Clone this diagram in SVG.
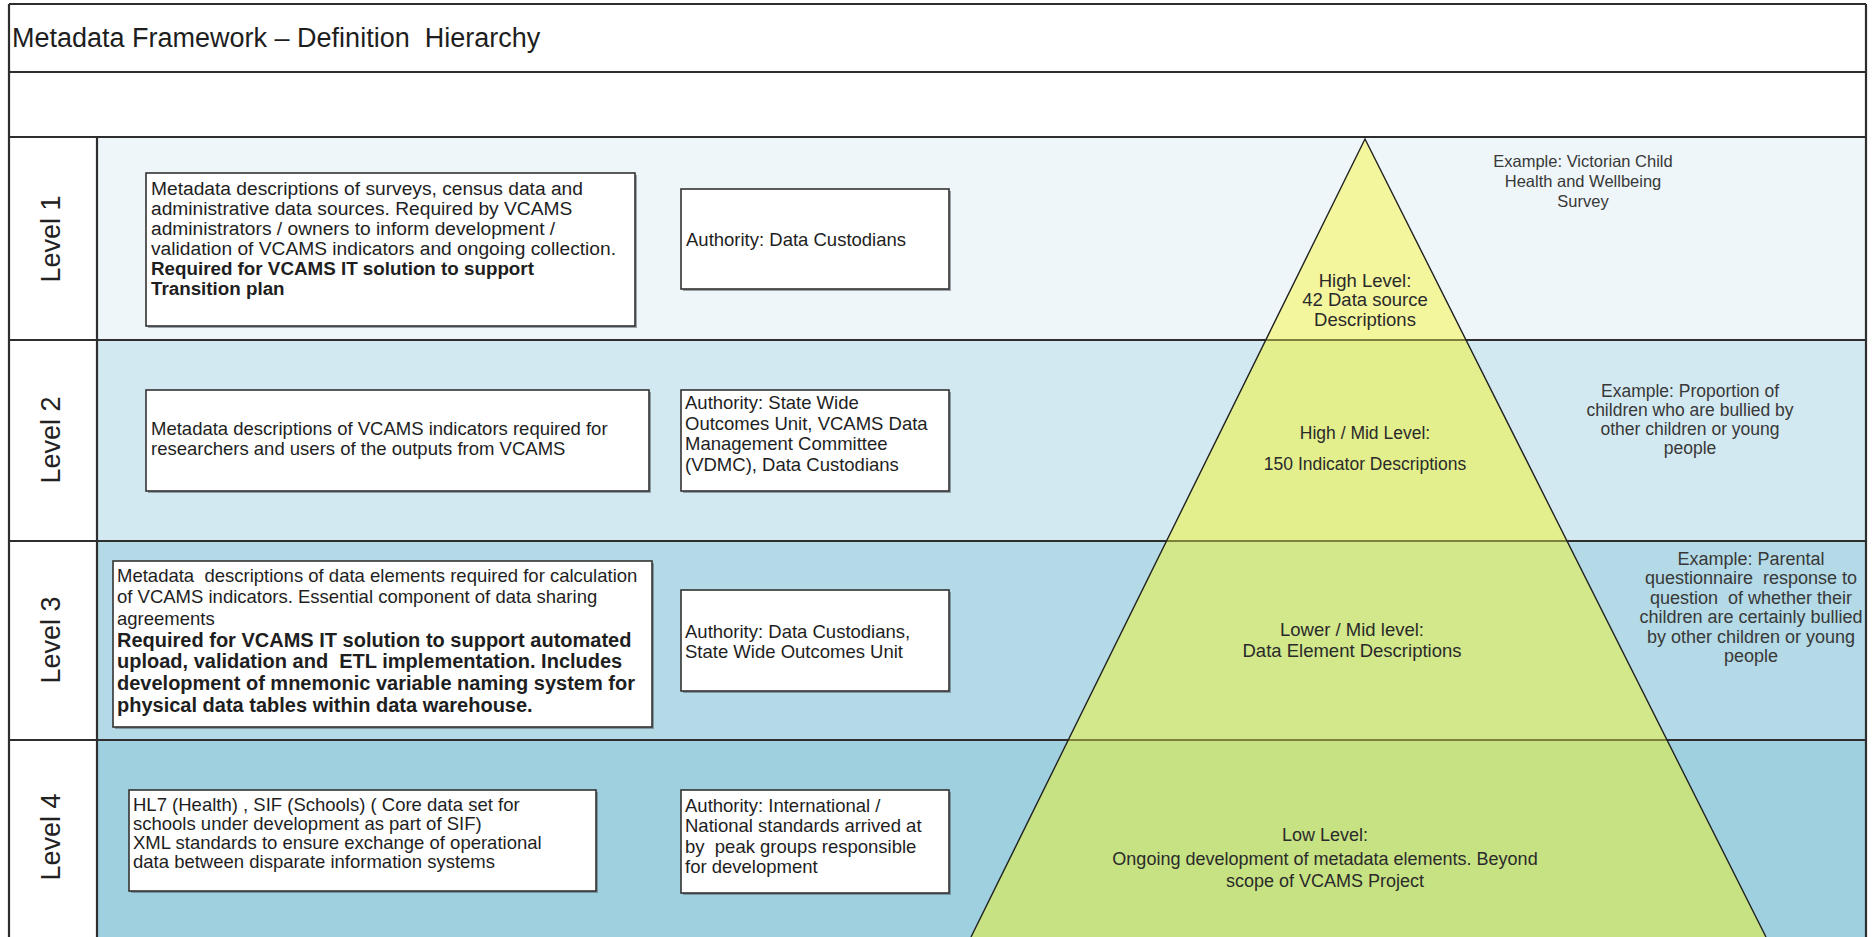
<svg xmlns="http://www.w3.org/2000/svg" width="1872" height="937" viewBox="0 0 1872 937">
<defs>
<style>
.t{font-family:"Liberation Sans",Arial,sans-serif;font-size:18.5px;fill:#1e1e1e}
.b{font-weight:bold}
.ex{font-family:"Liberation Sans",Arial,sans-serif;font-size:18px;fill:#383838;text-anchor:middle}
.pl{font-family:"Liberation Sans",Arial,sans-serif;font-size:18.5px;fill:#2a2a2a;text-anchor:middle}
.lv{font-family:"Liberation Sans",Arial,sans-serif;font-size:27px;fill:#222;text-anchor:middle}
.box{fill:#fff;stroke:#333;stroke-width:1.6}
.sh{fill:#55606a;opacity:.55}
.rl{stroke:#2e2e2e;stroke-width:2.2}
.ol{stroke:#7d7f3c;stroke-width:2.2}
</style>
</defs>
<rect x="0" y="0" width="1872" height="937" fill="#fff"/>
<g id="background">
<rect x="97" y="137" width="1769" height="203" fill="#eef6f9"/>
<rect x="97" y="340" width="1769" height="201" fill="#d3e9f1"/>
<rect x="97" y="541" width="1769" height="199" fill="#b3dae6"/>
<rect x="97" y="740" width="1769" height="197" fill="#9ed0df"/>
</g>
<g id="grid">
<line class="rl" x1="9" y1="4" x2="1866" y2="4"/>
<line class="rl" x1="9" y1="72" x2="1866" y2="72"/>
<line class="rl" x1="9" y1="137" x2="1866" y2="137"/>
<line class="rl" x1="9" y1="340" x2="1866" y2="340"/>
<line class="rl" x1="9" y1="541" x2="1866" y2="541"/>
<line class="rl" x1="9" y1="740" x2="1866" y2="740"/>
<line class="rl" x1="9" y1="4" x2="9" y2="937"/>
<line class="rl" x1="1866" y1="4" x2="1866" y2="937"/>
<line class="rl" x1="97" y1="137" x2="97" y2="937"/>
</g>
<g id="title">
<text x="12" y="47" xml:space="preserve" font-family="Liberation Sans, Arial, sans-serif" font-size="27" fill="#1e1e1e">Metadata Framework – Definition  Hierarchy</text>
</g>
<g id="pyramid">
<polygon points="1365,139 1466,340 1265.8,340" fill="#f4f69e"/>
<polygon points="1265.8,340 1466,340 1567,541 1166.5,541" fill="#e3ef8d"/>
<polygon points="1166.5,541 1567,541 1667,740 1068.3,740" fill="#d2e88a"/>
<polygon points="1068.3,740 1667,740 1766,937 971,937" fill="#c7e283"/>
<line class="ol" x1="1265.8" y1="340" x2="1466" y2="340"/>
<line class="ol" x1="1166.5" y1="541" x2="1567" y2="541"/>
<line class="ol" x1="1068.3" y1="740" x2="1667" y2="740"/>
<polyline points="971,937 1365,139 1766,937" fill="none" stroke="#222" stroke-width="1.4"/>
</g>
<g id="level1">
<g id="level1-label"><text class="lv" transform="translate(60,239) rotate(-90)">Level 1</text></g>
<g id="level1-desc">
<rect class="sh" x="148" y="175" width="489" height="153"/>
<rect class="box" x="146" y="173" width="489" height="153"/>
<text class="t" style="font-size:19.2px"><tspan x="151" y="195">Metadata descriptions of surveys, census data and</tspan><tspan x="151" y="215">administrative data sources. Required by VCAMS</tspan><tspan x="151" y="235">administrators / owners to inform development /</tspan><tspan x="151" y="255">validation of VCAMS indicators and ongoing collection.</tspan><tspan class="b" style="font-size:18.8px" x="151" y="275">Required for VCAMS IT solution to support</tspan><tspan class="b" style="font-size:18.8px" x="151" y="295">Transition plan</tspan></text>
</g>
<g id="level1-auth">
<rect class="sh" x="683" y="191" width="268" height="100"/>
<rect class="box" x="681" y="189" width="268" height="100"/>
<text class="t" x="686" y="246">Authority: Data Custodians</text>
</g>
<g id="level1-pyr"><text class="pl"><tspan x="1365" y="286.5">High Level:</tspan><tspan x="1365" y="306">42 Data source</tspan><tspan x="1365" y="325.5">Descriptions</tspan></text></g>
<g id="level1-example"><text class="ex" style="font-size:16.5px"><tspan x="1583" y="167">Example: Victorian Child</tspan><tspan x="1583" y="187">Health and Wellbeing</tspan><tspan x="1583" y="207">Survey</tspan></text></g>
</g>
<g id="level2">
<g id="level2-label"><text class="lv" transform="translate(60,440) rotate(-90)">Level 2</text></g>
<g id="level2-desc">
<rect class="sh" x="148" y="392" width="503" height="101"/>
<rect class="box" x="146" y="390" width="503" height="101"/>
<text class="t"><tspan x="151" y="435">Metadata descriptions of VCAMS indicators required for</tspan><tspan x="151" y="454.5">researchers and users of the outputs from VCAMS</tspan></text>
</g>
<g id="level2-auth">
<rect class="sh" x="683" y="392" width="268" height="101"/>
<rect class="box" x="681" y="390" width="268" height="101"/>
<text class="t"><tspan x="685" y="409">Authority: State Wide</tspan><tspan x="685" y="429.5">Outcomes Unit, VCAMS Data</tspan><tspan x="685" y="450">Management Committee</tspan><tspan x="685" y="470.5">(VDMC), Data Custodians</tspan></text>
</g>
<g id="level2-pyr"><text class="pl" style="font-size:17.5px"><tspan x="1365" y="438.5">High / Mid Level:</tspan><tspan x="1365" y="469.5">150 Indicator Descriptions</tspan></text></g>
<g id="level2-example"><text class="ex" style="font-size:17.5px"><tspan x="1690" y="397">Example: Proportion of</tspan><tspan x="1690" y="416">children who are bullied by</tspan><tspan x="1690" y="435">other children or young</tspan><tspan x="1690" y="454">people</tspan></text></g>
</g>
<g id="level3">
<g id="level3-label"><text class="lv" transform="translate(60,640) rotate(-90)">Level 3</text></g>
<g id="level3-desc">
<rect class="sh" x="115" y="563" width="539" height="166"/>
<rect class="box" x="113" y="561" width="539" height="166"/>
<text class="t" xml:space="preserve"><tspan x="117" y="581.5">Metadata  descriptions of data elements required for calculation</tspan><tspan x="117" y="603.2">of VCAMS indicators. Essential component of data sharing</tspan><tspan x="117" y="624.9">agreements</tspan><tspan class="b" style="font-size:20px" x="117" y="646.6">Required for VCAMS IT solution to support automated</tspan><tspan class="b" style="font-size:20px" x="117" y="668.3">upload, validation and  ETL implementation. Includes</tspan><tspan class="b" style="font-size:20px" x="117" y="690">development of mnemonic variable naming system for</tspan><tspan class="b" style="font-size:20px" x="117" y="711.7">physical data tables within data warehouse.</tspan></text>
</g>
<g id="level3-auth">
<rect class="sh" x="683" y="592" width="268" height="101"/>
<rect class="box" x="681" y="590" width="268" height="101"/>
<text class="t"><tspan x="685" y="637.5">Authority: Data Custodians,</tspan><tspan x="685" y="657.5">State Wide Outcomes Unit</tspan></text>
</g>
<g id="level3-pyr"><text class="pl"><tspan x="1352" y="636">Lower / Mid level:</tspan><tspan x="1352" y="657">Data Element Descriptions</tspan></text></g>
<g id="level3-example"><text class="ex" xml:space="preserve"><tspan x="1751" y="564.5">Example: Parental</tspan><tspan x="1751" y="584">questionnaire  response to</tspan><tspan x="1751" y="603.5">question  of whether their</tspan><tspan x="1751" y="623">children are certainly bullied</tspan><tspan x="1751" y="642.5">by other children or young</tspan><tspan x="1751" y="662">people</tspan></text></g>
</g>
<g id="level4">
<g id="level4-label"><text class="lv" transform="translate(60,837) rotate(-90)">Level 4</text></g>
<g id="level4-desc">
<rect class="sh" x="131" y="792" width="467" height="101"/>
<rect class="box" x="129" y="790" width="467" height="101"/>
<text class="t"><tspan x="133" y="810.5">HL7 (Health) , SIF (Schools) ( Core data set for</tspan><tspan x="133" y="829.5">schools under development as part of SIF)</tspan><tspan x="133" y="848.5">XML standards to ensure exchange of operational</tspan><tspan x="133" y="867.5">data between disparate information systems</tspan></text>
</g>
<g id="level4-auth">
<rect class="sh" x="683" y="792" width="268" height="103"/>
<rect class="box" x="681" y="790" width="268" height="103"/>
<text class="t" xml:space="preserve"><tspan x="685" y="811.5">Authority: International /</tspan><tspan x="685" y="832">National standards arrived at</tspan><tspan x="685" y="852.5">by  peak groups responsible</tspan><tspan x="685" y="873">for development</tspan></text>
</g>
<g id="level4-pyr"><text class="pl" style="font-size:18px"><tspan x="1325" y="840.5">Low Level:</tspan><tspan x="1325" y="864.5">Ongoing development of metadata elements. Beyond</tspan><tspan x="1325" y="886.5">scope of VCAMS Project</tspan></text></g>
</g>
<g id="connectors"/>
</svg>
